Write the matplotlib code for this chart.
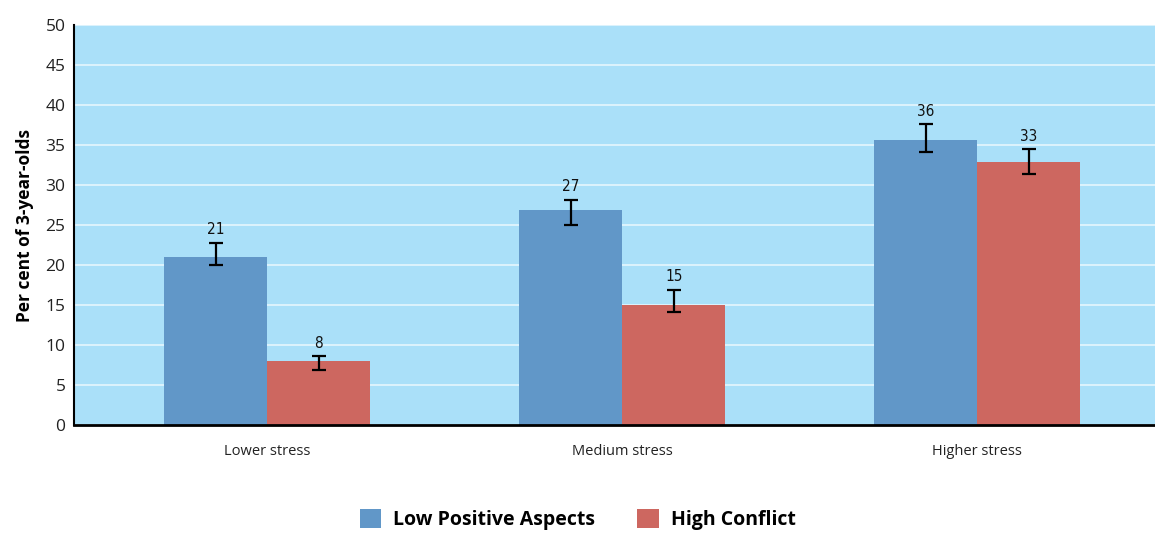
"""Stress level vs parenting aspects — bar chart with error bars."""

import matplotlib.pyplot as plt
import numpy as np

OUT = "out.png"

categories = ["Lower stress", "Medium stress", "Higher stress"]
series_names = ["Low Positive Aspects", "High Conflict"]

low_positive = [21.0, 26.9, 35.7]
low_positive_lo = [20.0, 25.0, 34.2]
low_positive_hi = [22.8, 28.2, 37.6]
low_positive_labels = ["21", "27", "36"]

high_conflict = [8.0, 15.0, 32.9]
high_conflict_lo = [6.9, 14.1, 31.4]
high_conflict_hi = [8.6, 16.9, 34.5]
high_conflict_labels = ["8", "15", "33"]

BLUE = "#6197c8"
RED = "#cd6760"
BG = "#aae0f9"

plt.rcParams["font.family"] = ["Open Sans", "DejaVu Sans"]

fig = plt.figure(figsize=(11.55, 5.36), dpi=100)
ax = fig.add_axes([0.064, 0.207, 0.936, 0.746])
ax.set_facecolor(BG)

x = np.arange(len(categories))
width = 0.29

series = [
    (low_positive, low_positive_lo, low_positive_hi, low_positive_labels, BLUE, -width / 2),
    (high_conflict, high_conflict_lo, high_conflict_hi, high_conflict_labels, RED, width / 2),
]
for (vals, lo, hi, labels, color, off), name in zip(series, series_names):
    vals = np.array(vals)
    yerr = [vals - np.array(lo), np.array(hi) - vals]
    ax.bar(x + off, vals, width, color=color, label=name, zorder=2)
    ax.errorbar(x + off, vals, yerr=yerr, fmt="none", ecolor="black",
                elinewidth=1.6, capsize=5, capthick=1.6, zorder=3)
    for xi, top, lab in zip(x + off, hi, labels):
        ax.text(xi, top + 0.7, lab, ha="center", va="bottom", fontsize=11,
                family="DejaVu Sans", fontstretch="condensed", color="#111111")

ax.set_ylim(0, 50)
ax.set_yticks(range(0, 51, 5))
ax.set_xlim(-0.544, 2.5)
ax.set_xticks(x)
ax.set_xticklabels(categories, fontsize=10.5, color="#222222")
ax.tick_params(axis="y", labelsize=12.5, length=0, pad=6, labelcolor="#222222")
ax.tick_params(axis="x", length=0, pad=14)
ax.grid(axis="y", color="#e6f6fd", lw=1.2, zorder=1)
ax.set_axisbelow(True)
for s in ["top", "right"]:
    ax.spines[s].set_visible(False)
ax.spines["left"].set_linewidth(1.5)
ax.spines["bottom"].set_linewidth(2)
ax.set_ylabel("Per cent of 3-year-olds", fontsize=12.5, fontweight="bold", labelpad=8)

fig.legend(loc="lower center", bbox_to_anchor=(0.5, -0.022), ncol=2, frameon=False,
           prop={"size": 14, "weight": "bold"}, handlelength=1.1, handleheight=1.1,
           columnspacing=2.2, handletextpad=0.6)

fig.savefig(OUT, dpi=100)
